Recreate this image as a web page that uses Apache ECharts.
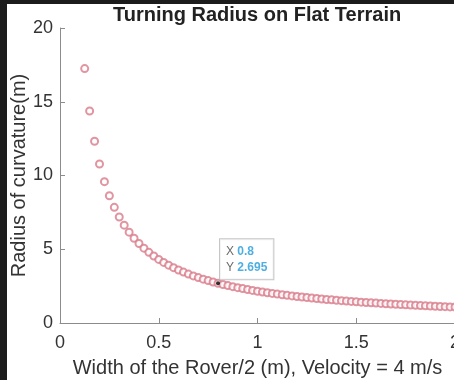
<!DOCTYPE html>
<html><head><meta charset="utf-8">
<script src="https://cdn.jsdelivr.net/npm/echarts@6/dist/echarts.min.js"></script>
<style>
html,body{margin:0;padding:0;width:454px;height:380px;overflow:hidden;background:#1c1c1c;}
#c{position:absolute;left:7px;top:4px;width:450px;height:376px;background:#fff;}
</style></head>
<body><div id="c"></div>
<script>
const titleText = 'Turning Radius on Flat Terrain';
const xName = 'Width of the Rover/2 (m), Velocity = 4 m/s';
const yName = 'Radius of curvature(m)';
const xTicks = [0, 0.5, 1, 1.5, 2];
const yTicks = [0, 5, 10, 15, 20];
const halfWidth = [0.125,0.15,0.175,0.2,0.225,0.25,0.275,0.3,0.325,0.35,0.375,0.4,0.425,0.45,0.475,0.5,
0.525,0.55,0.575,0.6,0.625,0.65,0.675,0.7,0.725,0.75,0.775,0.8,0.825,0.85,0.875,0.9,0.925,0.95,0.975,1.0,
1.025,1.05,1.075,1.1,1.125,1.15,1.175,1.2,1.225,1.25,1.275,1.3,1.325,1.35,1.375,1.4,1.425,1.45,1.475,1.5,
1.525,1.55,1.575,1.6,1.625,1.65,1.675,1.7,1.725,1.75,1.775,1.8,1.825,1.85,1.875,1.9,1.925,1.95,1.975,2.0];
const radius = [17.248,14.373,12.320,10.780,9.582,8.624,7.840,7.187,6.634,6.160,5.749,5.390,5.073,4.791,4.539,4.312,
4.107,3.920,3.750,3.593,3.450,3.317,3.194,3.080,2.974,2.875,2.782,2.695,2.613,2.536,2.464,2.396,2.331,2.269,2.211,2.156,
2.103,2.053,2.006,1.960,1.916,1.875,1.835,1.797,1.760,1.725,1.691,1.658,1.627,1.597,1.568,1.540,1.513,1.487,1.462,1.437,
1.414,1.391,1.369,1.348,1.327,1.307,1.287,1.268,1.250,1.232,1.215,1.198,1.181,1.165,1.150,1.135,1.120,1.106,1.092,1.078];
const tipX = [0.8];
const tipY = [2.695];

const chart = echarts.init(document.getElementById('c'), null, {width:450, height:376});
const axisCol = '#8c8c8c';
const txtCol = '#333333';
const font = 'Liberation Sans, Arial, sans-serif';
chart.setOption({
  animation:false,
  backgroundColor:'#fff',
  title:{text:titleText,left:106,top:1,padding:0,
    textStyle:{fontSize:20,fontWeight:'bold',color:'#222',fontFamily:font}},
  grid:{left:53,top:24,right:2,bottom:57,containLabel:false,outerBoundsMode:'none'},
  xAxis:{type:'value',min:0,max:2,interval:0.5,
    name:xName,nameLocation:'middle',nameGap:35,nameMoveOverlap:false,
    nameTextStyle:{fontSize:20,color:txtCol,fontFamily:font},
    axisLine:{lineStyle:{color:axisCol}},
    axisTick:{inside:true,length:5,lineStyle:{color:axisCol}},
    axisLabel:{fontSize:18,color:txtCol,margin:11,fontFamily:font,
      formatter:v=>{const i=xTicks.indexOf(v);return i>=0?String(xTicks[i]):'';}},
    splitLine:{show:false}},
  yAxis:{type:'value',min:0,max:20,interval:5,
    name:yName,nameLocation:'middle',nameGap:31,nameMoveOverlap:false,
    nameTextStyle:{fontSize:20,color:txtCol,fontFamily:font},
    axisLine:{show:true,lineStyle:{color:axisCol}},
    axisTick:{show:true,inside:true,length:5,lineStyle:{color:axisCol}},
    axisLabel:{fontSize:18,color:txtCol,margin:7,fontFamily:font,
      formatter:v=>{const i=yTicks.indexOf(v);return i>=0?String(yTicks[i]):'';}},
    splitLine:{show:false}},
  series:[{
    type:'scatter',
    data:halfWidth.map((x,i)=>[x,radius[i]]),
    symbol:'emptyCircle',symbolSize:7,
    itemStyle:{color:'#d87a8a',borderWidth:1},
    z:2
  },{
    type:'scatter',
    data:tipX.map((x,i)=>[x,tipY[i]]),
    symbol:'circle',symbolSize:4,
    itemStyle:{color:'#000'},
    z:5,
    label:{show:true,position:[4,-42],align:'left',verticalAlign:'top',
      formatter:p=>'{a|X} {b|'+p.value[0]+'}\n{a|Y} {b|'+p.value[1]+'}',
      backgroundColor:'#fff',borderColor:'#b8b8b8',borderWidth:1,padding:[4,6,4,6],
      lineHeight:16,
      rich:{a:{fontSize:12,color:'#444',fontFamily:font,lineHeight:16},
            b:{fontSize:12,color:'#1f9bd8',fontWeight:'bold',fontFamily:font,lineHeight:16}}}
  }]
});
</script></body></html>
